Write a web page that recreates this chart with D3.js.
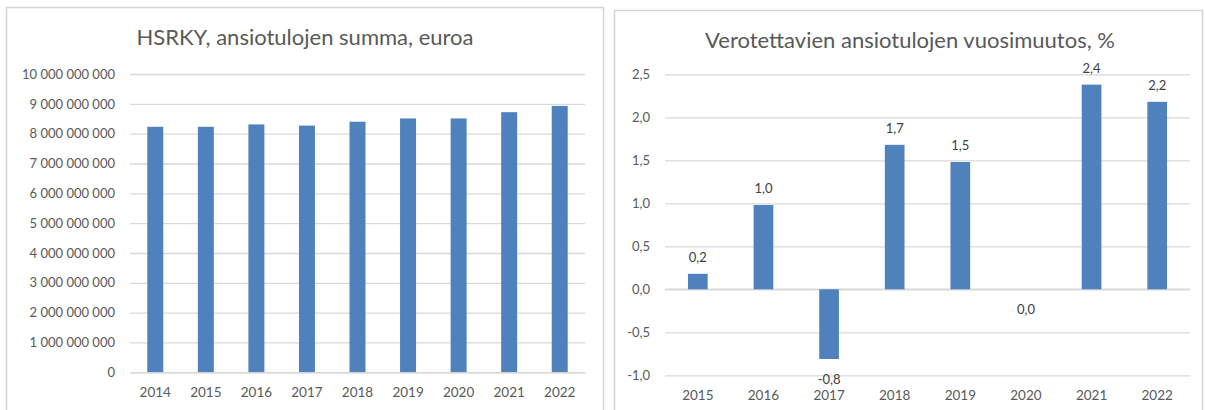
<!DOCTYPE html>
<html>
<head>
<meta charset="utf-8">
<script src="https://cdn.jsdelivr.net/npm/d3@7"></script>
<style>
  html, body { margin: 0; padding: 0; background: #fff; }
  svg { display: block; font-family: Lato, "Open Sans", sans-serif; }
</style>
</head>
<body>
<svg id="chart" width="1205" height="410"></svg>
<script>
// ---- Data ----
const leftTitle = "HSRKY, ansiotulojen summa, euroa";
const leftYears = ["2014","2015","2016","2017","2018","2019","2020","2021","2022"];
const leftValues = [8230000000, 8230000000, 8310000000, 8270000000, 8400000000, 8510000000, 8510000000, 8720000000, 8930000000];
const leftTicks = [0,1e9,2e9,3e9,4e9,5e9,6e9,7e9,8e9,9e9,1e10];

const rightTitle = "Verotettavien ansiotulojen vuosimuutos, %";
const rightYears = ["2015","2016","2017","2018","2019","2020","2021","2022"];
const rightValues = [0.18, 0.98, -0.81, 1.68, 1.48, 0.0, 2.38, 2.18];
const rightTicks = [-1.0,-0.5,0.0,0.5,1.0,1.5,2.0,2.5];

// ---- Styles ----
const barColor = "#4f81bd";
const gridColor = "#d9d9d9";
const textColor = "#595959";
const borderColor = "#d4d4d4";

const svg = d3.select("#chart");

const fmtComma = v => {
  const s = Math.abs(v).toFixed(1).replace(".", ",");
  return (v < 0 && s !== "0,0") ? "-" + s : s;
};

// Panel borders
svg.append("rect").attr("x", 6.5).attr("y", 7.5).attr("width", 597).attr("height", 420)
  .attr("fill", "none").attr("stroke", borderColor).attr("stroke-width", 1.5);
svg.append("rect").attr("x", 614.5).attr("y", 10.5).attr("width", 588).attr("height", 420)
  .attr("fill", "none").attr("stroke", borderColor).attr("stroke-width", 1.5);

// ---- Left chart ----
{
  const x = d3.scaleBand().domain(leftYears).range([130, 585]).paddingInner(0.684).paddingOuter(0.342);
  const y = d3.scaleLinear().domain([0, 1e10]).range([372.3, 74]);
  const g = svg.append("g");

  g.append("text").attr("x", 305).attr("y", 45).attr("text-anchor", "middle")
    .attr("fill", textColor).attr("font-size", 22).attr("font-weight", 400).text(leftTitle);

  const yAxis = d3.axisLeft(y).tickValues(leftTicks).tickSize(-(585 - 130)).tickPadding(15)
    .tickFormat(v => d3.format(",.0f")(v).replace(/,/g, " "));
  const ya = g.append("g").attr("transform", "translate(130,0)").call(yAxis);
  ya.select(".domain").remove();
  ya.selectAll(".tick line").attr("stroke", gridColor).attr("stroke-width", 1.3);
  ya.selectAll(".tick text").attr("fill", textColor).attr("font-size", 13).attr("font-family", "Lato, sans-serif");

  g.selectAll("rect.bar").data(leftValues).join("rect").attr("class", "bar")
    .attr("x", (d, i) => x(leftYears[i])).attr("width", x.bandwidth())
    .attr("y", d => y(d)).attr("height", d => y(0) - y(d)).attr("fill", barColor);

  const xAxis = d3.axisBottom(x).tickSize(0).tickPadding(15);
  const xa = g.append("g").attr("transform", `translate(0,${y(0)})`).call(xAxis);
  xa.select(".domain").attr("stroke", gridColor).attr("stroke-width", 1.3);
  xa.selectAll(".tick text").attr("fill", textColor).attr("font-size", 13.5).attr("font-family", "Lato, sans-serif");
}

// ---- Right chart ----
{
  const x = d3.scaleBand().domain(rightYears).range([665, 1190]).paddingInner(0.7).paddingOuter(0.35);
  const y = d3.scaleLinear().domain([-1.0, 2.5]).range([375.3, 74.3]);
  const g = svg.append("g");

  g.append("text").attr("x", 910).attr("y", 48).attr("text-anchor", "middle")
    .attr("fill", textColor).attr("font-size", 22).attr("font-weight", 400).text(rightTitle);

  const yAxis = d3.axisLeft(y).tickValues(rightTicks).tickSize(-(1190 - 665)).tickPadding(15)
    .tickFormat(fmtComma);
  const ya = g.append("g").attr("transform", "translate(665,0)").call(yAxis);
  ya.select(".domain").remove();
  ya.selectAll(".tick line").attr("stroke", gridColor).attr("stroke-width", 1.3);
  ya.selectAll(".tick text").attr("fill", textColor).attr("font-size", 13).attr("font-family", "Lato, sans-serif");

  // zero line (category axis)
  g.append("line").attr("x1", 665).attr("x2", 1190).attr("y1", y(0)).attr("y2", y(0))
    .attr("stroke", gridColor).attr("stroke-width", 1.6);

  g.selectAll("rect.bar").data(rightValues).join("rect").attr("class", "bar")
    .attr("x", (d, i) => x(rightYears[i])).attr("width", x.bandwidth())
    .attr("y", d => y(Math.max(0, d))).attr("height", d => Math.abs(y(d) - y(0)))
    .attr("fill", barColor);

  g.selectAll("text.lbl").data(rightValues).join("text").attr("class", "lbl")
    .attr("x", (d, i) => x(rightYears[i]) + x.bandwidth() / 2)
    .attr("y", d => d > 0 ? y(d) - 12 : y(d) + 25)
    .attr("text-anchor", "middle").attr("fill", "#404040").attr("font-size", 13)
    .text(d => fmtComma(d));

  const xAxis = d3.axisBottom(x).tickSize(0).tickPadding(0);
  const xa = g.append("g").attr("transform", `translate(0,${y(-1.0) + 25})`).call(xAxis);
  xa.select(".domain").remove();
  xa.selectAll(".tick text").attr("fill", textColor).attr("font-size", 13.5).attr("font-family", "Lato, sans-serif")
    .attr("dy", 0);
}
</script>
</body>
</html>
